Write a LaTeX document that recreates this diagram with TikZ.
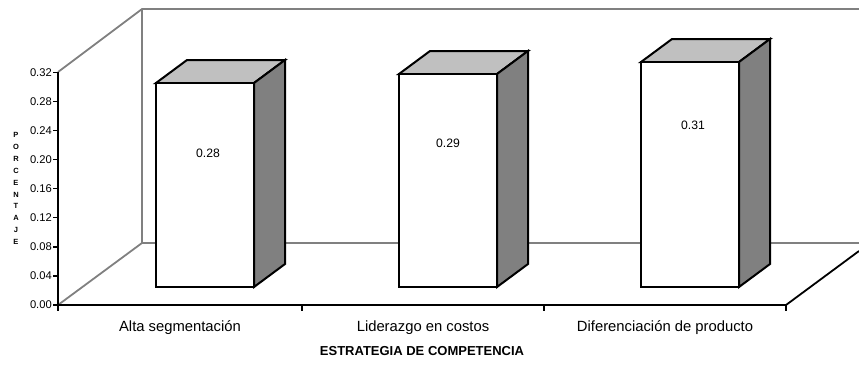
\documentclass[tikz,border=0pt]{standalone}
\usepackage{fontspec}
\setmainfont{Liberation Sans}
\definecolor{wallgray}{HTML}{808080}
\definecolor{topgray}{HTML}{C0C0C0}
\definecolor{sidegray}{HTML}{808080}
\begin{document}
\begin{tikzpicture}[x=1pt,y=-1pt,
  wall/.style={draw=wallgray,line width=1.8pt},
  axis/.style={draw=black,line width=2pt},
  barline/.style={draw=black,line width=2pt,line join=miter},
  ticklbl/.style={anchor=east,inner sep=0pt,font=\fontsize{11.2}{13}\selectfont},
  catlbl/.style={inner sep=0pt,font=\fontsize{14.8}{16}\selectfont},
  vallbl/.style={inner sep=0pt,font=\fontsize{12.2}{14}\selectfont},
  ttl/.style={inner sep=0pt,font=\fontsize{13}{15}\selectfont\bfseries}]
\useasboundingbox (0,0) rectangle (859,365);
% back wall and floor
\draw[wall] (58,72) -- (142,9) -- (859,9);
\draw[wall] (142,9) -- (142,243) -- (859,243);
\draw[wall] (58,305) -- (142,243);
\draw[axis,line width=1.8pt] (786,305) -- (859,251);
% axes
\draw[axis] (58,72) -- (58,305) -- (786,305);
\foreach \k/\l in {0/0.00,1/0.04,2/0.08,3/0.12,4/0.16,5/0.20,6/0.24,7/0.28,8/0.32}{
  \draw[axis,line width=1.4pt] (53,{305-\k*29.1}) -- (58,{305-\k*29.1});
  \node[ticklbl] (t\k) at (52,{305-\k*29.1}) {\l};
}
\foreach \x in {58,302,544,786}{
  \draw[axis,line width=1.4pt] (\x,305) -- (\x,311);
}
% bars
\foreach \n/\c/\t in {1/205/83,2/448/74,3/690/62}{
  \pgfmathsetmacro{\xl}{\c-49}
  \pgfmathsetmacro{\xr}{\c+49}
  \filldraw[barline,fill=topgray] (\xl,\t) -- ({\xl+31},{\t-23}) -- ({\xr+31},{\t-23}) -- (\xr,\t) -- cycle;
  \filldraw[barline,fill=sidegray] (\xr,\t) -- ({\xr+31},{\t-23}) -- ({\xr+31},264) -- (\xr,287) -- cycle;
  \filldraw[barline,fill=white] (\xl,\t) rectangle (\xr,287);
}
\node[vallbl] (v1) at (208,153) {0.28};
\node[vallbl] (v2) at (448,143) {0.29};
\node[vallbl] (v3) at (693,125) {0.31};
% category labels
\node[catlbl] (c1) at (180,328) {Alta segmentación};
\node[catlbl] (c2) at (423,328) {Liderazgo en costos};
\node[catlbl] (c3) at (665,328) {Diferenciación de producto};
\node[ttl] (xt) at (422,351) {ESTRATEGIA DE COMPETENCIA};
\node[inner sep=0pt,align=center,font=\fontsize{7.5}{11.9}\selectfont\bfseries] (yt) at (16,188.5)
  {P\\O\\R\\C\\E\\N\\T\\A\\J\\E};
\end{tikzpicture}
\end{document}
